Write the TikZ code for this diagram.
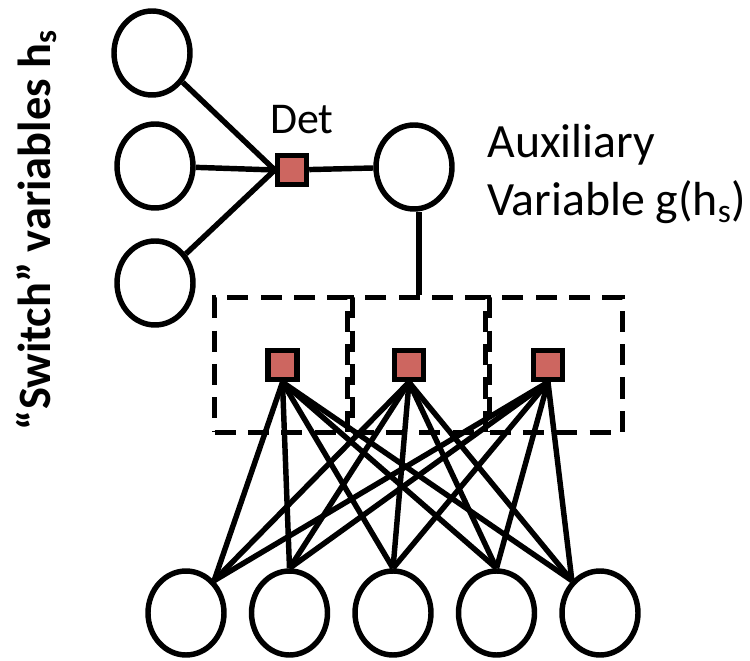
\documentclass[tikz,border=0pt]{standalone}
\usepackage{fontspec}
\setmainfont{Carlito}
\usetikzlibrary{positioning, shapes.geometric}

\definecolor{factorred}{RGB}{205,102,96}

\tikzset{
  var/.style={draw, ellipse, line width=3.1pt, inner sep=0pt,
    minimum width=1.52cm, minimum height=1.68cm},
  factor/.style={draw, rectangle, fill=factorred, line width=3.1pt,
    inner sep=0pt, minimum size=0.58cm},
  dashbox/.style={draw, rectangle, line width=3.1pt, dash pattern=on 12pt off 7pt,
    inner sep=0pt, minimum width=2.66cm, minimum height=2.7cm},
  edge/.style={line width=3.1pt},
  bigtext/.style={font=\fontsize{27.2pt}{33.5pt}\selectfont, inner sep=0pt},
}

\begin{document}
\begin{tikzpicture}[x=0.02cm, y=-0.02cm]
  \useasboundingbox (0,0) rectangle (750,661);

  % switch variables and the deterministic factor
  \node[var] (s1) at (152,53) {};
  \node[var] (s2) at (155,166) {};
  \node[var] (s3) at (155,283) {};
  \node[factor] (det) at (292,170) {};
  \node[bigtext, font=\fontsize{25pt}{30pt}\selectfont, above=0.38cm of det, xshift=0.2cm] (detlabel) {Det};

  % auxiliary variable
  \node[var] (aux) at (414,167) {};
  \node[bigtext, align=left, anchor=west] (auxlabel) at (487,174) {Auxiliary\\Variable g(h\textsubscript{s})};

  \node[bigtext, font=\bfseries\fontsize{26.4pt}{33.5pt}\selectfont, rotate=90, anchor=base] (switchlabel) at (50,230)
    {“Switch” variables h\textsubscript{s}};

  \foreach \s in {1,2,3} {
    \draw[edge] (s\s) -- (det.west);
  }
  \draw[edge] (det) -- (aux);

  % dashed plates
  \foreach \b/\x in {1/281, 2/419, 3/556} {
    \node[dashbox] (b\b) at (\x,365) {};
  }
  \draw[edge] (b2.north) -- (b2.north |- aux.south);

  % factors inside the plates
  \foreach \f/\x in {1/282.5, 2/409, 3/548} {
    \node[factor] (f\f) at (\x,365) {};
  }

  % bottom variables
  \foreach \i in {1,...,5} {
    \pgfmathsetmacro{\xpos}{186+103.5*(\i-1)}
    \node[var] (v\i) at (\xpos,613) {};
  }

  % connect every factor to every bottom variable
  \foreach \f in {1,2,3} {
    \foreach \v/\a in {1/49, 2/90, 3/90, 4/90, 5/131} {
      \draw[edge] (f\f.south) -- (v\v.\a);
    }
  }
\end{tikzpicture}
\end{document}
